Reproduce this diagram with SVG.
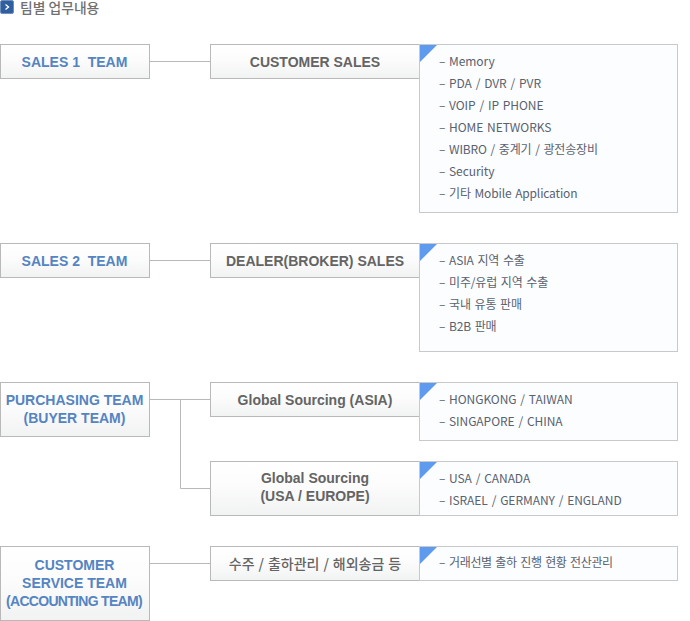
<svg xmlns="http://www.w3.org/2000/svg" width="690" height="621" viewBox="0 0 690 621">
<defs>
<linearGradient id="g" x1="0" y1="0" x2="0" y2="1"><stop offset="0" stop-color="#ffffff"/><stop offset="0.45" stop-color="#fcfcfc"/><stop offset="1" stop-color="#f1f2f2"/></linearGradient>
</defs>
<style>
text{font-family:"Liberation Sans","Noto Sans CJK KR",sans-serif}
.box{fill:url(#g);stroke:#b9b9b9;stroke-width:1}
.panel{fill:#fcfdfe;stroke:#c9c9c9;stroke-width:1}
.tri{fill:#5e9bee}
.team{font-size:14px;font-weight:bold;fill:#5484c2;text-anchor:middle}
.sub{font-size:14px;font-weight:bold;fill:#646464;text-anchor:middle}
.item{font-family:"Noto Sans CJK KR","Noto Sans",sans-serif;font-size:12px;fill:#59626f;word-spacing:1.2px;letter-spacing:-0.05px}
.ko{letter-spacing:-0.15px}
.ko2{letter-spacing:-0.35px}
.line{fill:none;stroke:#b9b9b9;stroke-width:1}
</style>
<g id="title">
<rect x="0.500" y="0.500" width="13" height="13" rx="1.500" fill="#2f5f9e" stroke="#6e8fbd"/>
<path d="M5.500 4.500L8.500 7L5.500 9.500" fill="none" stroke="#fff" stroke-width="1.400"/>
<text x="20" y="13" style="font-family:'Noto Sans CJK KR',sans-serif;font-size:13.800px;fill:#707070;font-weight:500">팀별 업무내용</text>
</g>
<g id="connectors">
<path class="line" d="M150 61.500H210"/>
<path class="line" d="M150 260.500H210"/>
<path class="line" d="M150 399.500H210M180.500 399.500V488.500H210"/>
<path class="line" d="M150 563.500H210"/>
</g>
<g id="sales1"><rect class="box" x="0.500" y="44.500" width="149" height="34"/><text class="team" x="74.500" y="66.500" xml:space="preserve">SALES 1  TEAM</text></g>
<g id="customer-sales"><rect class="box" x="210.500" y="44.500" width="209" height="34"/><text class="sub" x="315" y="66.500">CUSTOMER SALES</text></g>
<g id="customer-sales-list">
<rect class="panel" x="419.500" y="44.500" width="258" height="168"/><path class="tri" d="M420 45H437L420 62Z"/>
<text class="item" x="439" y="65.500">–<tspan x="449">Memory</tspan></text>
<text class="item" x="439" y="87.500">–<tspan x="449">PDA / DVR / PVR</tspan></text>
<text class="item" x="439" y="109.500">–<tspan x="449">VOIP / IP PHONE</tspan></text>
<text class="item" x="439" y="131.500">–<tspan x="449">HOME NETWORKS</tspan></text>
<text class="item ko" x="439" y="153.500">–<tspan x="449">WIBRO / 중계기 / 광전송장비</tspan></text>
<text class="item" x="439" y="175.500">–<tspan x="449">Security</tspan></text>
<text class="item ko" x="439" y="197.500">–<tspan x="449">기타 Mobile Application</tspan></text>
</g>
<g id="sales2"><rect class="box" x="0.500" y="243.500" width="149" height="34"/><text class="team" x="74.500" y="265.500" xml:space="preserve">SALES 2  TEAM</text></g>
<g id="dealer-sales"><rect class="box" x="210.500" y="243.500" width="209" height="34"/><text class="sub" x="315" y="265.500">DEALER(BROKER) SALES</text></g>
<g id="dealer-sales-list">
<rect class="panel" x="419.500" y="243.500" width="258" height="108"/><path class="tri" d="M420 244H437L420 261Z"/>
<text class="item ko" x="439" y="264.500">–<tspan x="449">ASIA 지역 수출</tspan></text>
<text class="item ko" x="439" y="286.500">–<tspan x="449">미주/유럽 지역 수출</tspan></text>
<text class="item ko" x="439" y="308.500">–<tspan x="449">국내 유통 판매</tspan></text>
<text class="item ko" x="439" y="330.500">–<tspan x="449">B2B 판매</tspan></text>
</g>
<g id="purchasing"><rect class="box" x="0.500" y="382.500" width="149" height="54"/><text class="team" x="74.500" y="405">PURCHASING TEAM</text><text class="team" x="74.500" y="423">(BUYER TEAM)</text></g>
<g id="sourcing-asia"><rect class="box" x="210.500" y="382.500" width="209" height="34"/><text class="sub" x="315" y="404.500">Global Sourcing (ASIA)</text></g>
<g id="sourcing-asia-list">
<rect class="panel" x="419.500" y="382.500" width="258" height="58"/><path class="tri" d="M420 383H437L420 400Z"/>
<text class="item" x="439" y="403.500">–<tspan x="449">HONGKONG / TAIWAN</tspan></text>
<text class="item" x="439" y="425.500">–<tspan x="449">SINGAPORE / CHINA</tspan></text>
</g>
<g id="sourcing-usa"><rect class="box" x="210.500" y="461.500" width="209" height="54"/><text class="sub" x="315" y="483">Global Sourcing</text><text class="sub" x="315" y="501">(USA / EUROPE)</text></g>
<g id="sourcing-usa-list">
<rect class="panel" x="419.500" y="461.500" width="258" height="54"/><path class="tri" d="M420 462H437L420 479Z"/>
<text class="item" x="439" y="482.500">–<tspan x="449">USA / CANADA</tspan></text>
<text class="item" x="439" y="504.500">–<tspan x="449">ISRAEL / GERMANY / ENGLAND</tspan></text>
</g>
<g id="customer-service"><rect class="box" x="0.500" y="546.500" width="149" height="74"/><text class="team" x="74.500" y="570">CUSTOMER</text><text class="team" x="74.500" y="588">SERVICE TEAM</text><text class="team" x="74" y="606" letter-spacing="-0.700">(ACCOUNTING TEAM)</text></g>
<g id="order-mgmt"><rect class="box" x="210.500" y="546.500" width="209" height="34"/><text class="sub" x="315" y="568.500" style="font-family:'Noto Sans CJK KR',sans-serif;font-weight:500;font-size:14px;word-spacing:0.8px">수주 / 출하관리 / 해외송금 등</text></g>
<g id="order-mgmt-list">
<rect class="panel" x="419.500" y="546.500" width="258" height="34"/><path class="tri" d="M420 547H437L420 564Z"/>
<text class="item ko2" x="439" y="566.500">–<tspan x="449">거래선별 출하 진행 현황 전산관리</tspan></text>
</g>
</svg>
